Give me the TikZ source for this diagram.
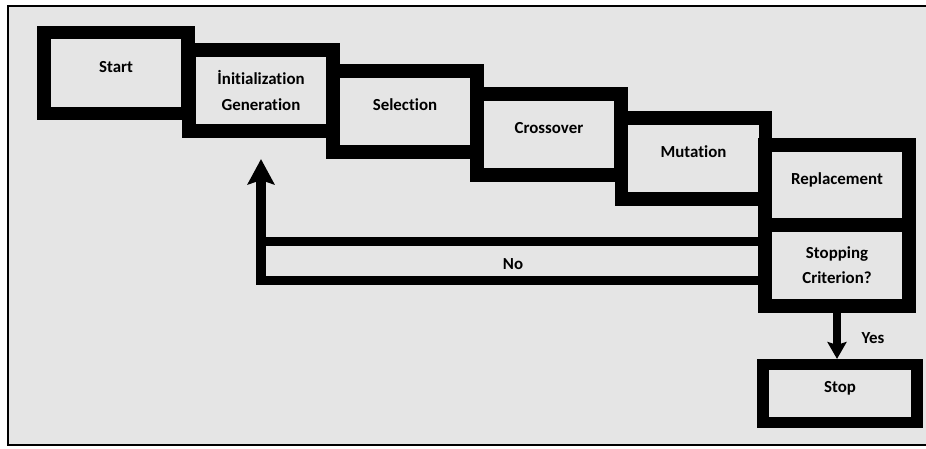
\documentclass[tikz,border=0pt]{standalone}
\usepackage{fontspec}
\setmainfont[Ligatures=NoCommon, RawFeature={-liga;-clig;-calt;-dlig}]{Carlito}
\usetikzlibrary{arrows.meta, positioning}
\definecolor{panelgray}{RGB}{229,229,229}
\tikzset{
  backarr/.style = {-{Stealth[length=18pt, width=19pt, inset=3pt]}, line width=7pt},
  noline/.style  = {line width=7pt},
  yesarr/.style  = {-{Stealth[length=12pt, width=13.5pt, inset=2pt]}, line width=5pt},
  %% Box presets
  stepbox/.style = {draw=black, fill=panelgray, line width=9.9pt, minimum width=3.6cm,
                    minimum height=2.025cm, inner sep=0pt, align=center},
  endbox/.style  = {draw=black, fill=panelgray, line width=8.2pt, minimum width=3.86cm,
                    minimum height=1.44cm, inner sep=0pt, align=center},
  lift/.style    = {text height=8pt, text depth=9pt},
}
\begin{document}
\begin{tikzpicture}[x=0.025cm, y=-0.025cm,
  every node/.style={font=\fontsize{12}{17.8}\selectfont\bfseries}]

\useasboundingbox (0,0) rectangle (926,448);

%% ---- Frame ----
\fill[panelgray] (8,6) rectangle (926,445);
\draw[line width=2pt] (926,6) -- (8,6) -- (8,445) -- (926,445);

%% ---- (1) Steps of the loop ----
\node[stepbox, lift] (start)     at (116,73)    {Start};
\node[stepbox]       (init)      at (261,90.5)  {İnitialization\\Generation};
\node[stepbox, lift] (selection) at (405,111.5) {Selection};
\node[stepbox, lift] (crossover) at (549,134.5) {Crossover};
\node[stepbox, lift] (mutation)  at (693.5,158.5) {Mutation};
\node[stepbox, lift] (replace)   at (837,185.5) {Replacement};
\node[stepbox]       (stopping)  at (837,265.5) {Stopping\\Criterion?};

%% ---- (2) Stop ----
\node[endbox, lift] (stop) at (840,393.5) {Stop};

%% ---- (3) No: back to initialization ----
\coordinate (nolow) at ([yshift=-0.375cm]stopping.west);
\coordinate (noup)  at ([yshift=0.6cm]stopping.west);

\draw[backarr, shorten >=15pt] (nolow) -| (init.south);
\draw[noline] (noup) -- (noup -| init.south);
\node (no) at (513,264) {No};

%% ---- (4) Yes: stop ----
\draw[yesarr] (stopping.south) -- (stopping.south |- stop.north);
\node (yes) at (873,338) {Yes};

\end{tikzpicture}
\end{document}
